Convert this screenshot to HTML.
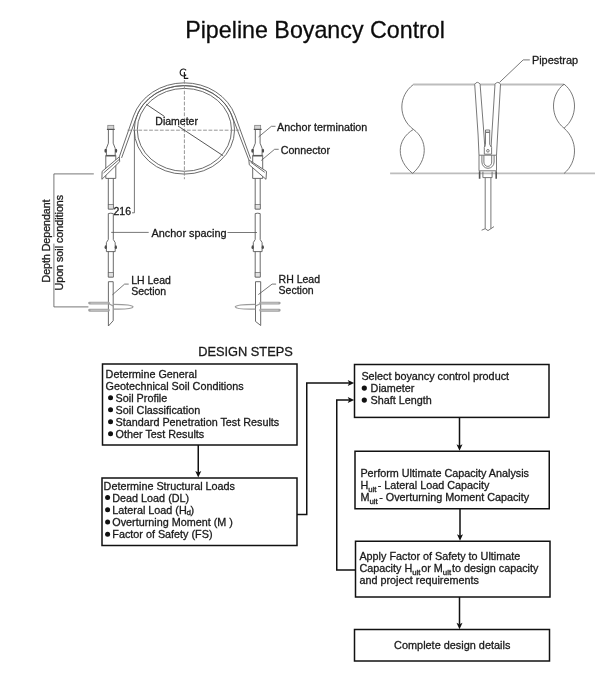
<!DOCTYPE html>
<html><head><meta charset="utf-8"><style>
html,body{margin:0;padding:0;background:#fff;}
body{width:616px;height:680px;overflow:hidden;}
svg{display:block;filter:blur(0.3px);}
text{font-family:"Liberation Sans",sans-serif;stroke:#1a1a1a;stroke-width:0.3px;}
</style></head><body>
<svg width="616" height="680" viewBox="0 0 616 680">
<text x="185.2" y="38" font-size="23.25" fill="#0a0a0a" >Pipeline Boyancy Control</text>
<g fill="none" stroke="#5a5a5a" stroke-width="0.9">
<path d="M119.3,156.85 L133.56,116 A53.2,47 0 0 1 235.09,115.58 L250.6,158.6"/>
<path d="M121.6,157.9 L136.63,116.39 A50.15,44.25 0 0 1 231.91,115.68 L248.85,159.9"/>
<ellipse cx="184.4" cy="129.85" rx="50.15" ry="44.25"/>
<ellipse cx="184.4" cy="129.85" rx="47.1" ry="41.45"/>
</g>
<g fill="none" stroke="#8a8a8a" stroke-width="0.9" stroke-dasharray="3.8 1.6">
<path d="M184.4,80 V179.2"/>
<path d="M127.5,130.2 H240.3"/>
</g>
<g fill="none" stroke="#1a1a1a" stroke-width="1.15">
<path d="M186.1,70.4 A3.3,3.5 0 1 0 186.1,74.6"/>
<path d="M184.4,72 V78.3 H188.3"/>
</g>
<g fill="none" stroke="#444" stroke-width="0.9">
<path d="M146.3,104.3 L164.4,116.4"/>
<path d="M178,126 L223.1,155.7"/>
</g>
<text x="155.3" y="125.3" font-size="10.5" fill="#1a1a1a" >Diameter</text>
<g fill="none" stroke="#5a5a5a" stroke-width="0.9">
<rect x="107.8" y="125.3" width="6" height="4.1" fill="#d4d4d4" stroke="#777" stroke-width="0.7"/>
<path d="M106.89999999999999,129.4 H114.7" stroke-width="1.2" stroke="#555"/>
<path d="M108.39999999999999,129.4 V143.2 L106.39999999999999,148.3 V155.2 M113.2,129.4 V143.2 L115.2,148.3 V155.2"/>
<ellipse cx="105.5" cy="150.7" rx="1.1" ry="2" fill="#4a4a4a" stroke="none"/>
<ellipse cx="116.1" cy="150.7" rx="1.1" ry="2" fill="#4a4a4a" stroke="none"/>
<path d="M105.8,155.7 H115.8" stroke-width="1.6"/>
<path d="M105.8,155.3 V178.4 H115.8 V155.3"/>
<path d="M108.3,178.4 V209 H113.3 V178.4"/>
<rect x="108.3" y="204.6" width="5" height="4.4" fill="#e2e2e2" stroke="#666" stroke-width="0.7"/>
<path d="M108.3,213.6 V239.5 L106.39999999999999,242.6 V251.6 H115.2 V242.6 L113.3,239.5 V213.6 Q110.8,212.8 108.3,213.6"/>
<ellipse cx="105.7" cy="247.2" rx="1.1" ry="1.9" fill="#4a4a4a" stroke="none"/>
<ellipse cx="115.89999999999999" cy="247.2" rx="1.1" ry="1.9" fill="#4a4a4a" stroke="none"/>
<path d="M108.3,251.6 V277 H113.3 V251.6"/>
<rect x="108.3" y="272.5" width="5" height="4.5" fill="#e2e2e2" stroke="#666" stroke-width="0.7"/>
<rect x="254.7" y="125.3" width="6" height="4.1" fill="#d4d4d4" stroke="#777" stroke-width="0.7"/>
<path d="M253.79999999999998,129.4 H261.59999999999997" stroke-width="1.2" stroke="#555"/>
<path d="M255.29999999999998,129.4 V143.2 L253.29999999999998,148.3 V155.2 M260.09999999999997,129.4 V143.2 L262.09999999999997,148.3 V155.2"/>
<ellipse cx="252.39999999999998" cy="150.7" rx="1.1" ry="2" fill="#4a4a4a" stroke="none"/>
<ellipse cx="263.0" cy="150.7" rx="1.1" ry="2" fill="#4a4a4a" stroke="none"/>
<path d="M252.7,155.7 H262.7" stroke-width="1.6"/>
<path d="M252.7,155.3 V178.4 H262.7 V155.3"/>
<path d="M255.2,178.4 V209 H260.2 V178.4"/>
<rect x="255.2" y="204.6" width="5" height="4.4" fill="#e2e2e2" stroke="#666" stroke-width="0.7"/>
<path d="M255.2,213.6 V239.5 L253.29999999999998,242.6 V251.6 H262.09999999999997 V242.6 L260.2,239.5 V213.6 Q257.7,212.8 255.2,213.6"/>
<ellipse cx="252.6" cy="247.2" rx="1.1" ry="1.9" fill="#4a4a4a" stroke="none"/>
<ellipse cx="262.8" cy="247.2" rx="1.1" ry="1.9" fill="#4a4a4a" stroke="none"/>
<path d="M255.2,251.6 V277 H260.2 V251.6"/>
<rect x="255.2" y="272.5" width="5" height="4.5" fill="#e2e2e2" stroke="#666" stroke-width="0.7"/>
<path fill="#fff" d="M119.3,156.85 L102.1,171.4 L101.9,179.3 L119.7,161.7 Z M119.5,159.2 L103.5,173"/>
<path fill="#fff" d="M248.85,159.9 L266.5,171.4 L266,179.3 L249.3,164.8 Z M250.6,162.1 L264.7,172.3"/>
<path d="M108.4,281.7 V326 L113.2,320.7 V281.7 Z"/>
<path d="M255.5,281.7 V321.4 L260.7,325.5 V281.7 Z"/>
</g>
<g fill="none" stroke="#a0a0a0" stroke-width="2.9" stroke-linecap="round">
<path d="M89.6,303.1 H108.4 M89.6,310.2 H108.4"/>
<path d="M260.7,303.1 H279.2 M260.7,310.2 H279.2"/>
</g>
<g fill="none" stroke="#dcdcdc" stroke-width="0.7">
<path d="M90.5,303.1 H108 M90.5,310.2 H108"/>
<path d="M261,303.1 H278.5 M261,310.2 H278.5"/>
</g>
<g fill="none" stroke="#9a9a9a" stroke-width="1.3">
<path d="M113.2,304.4 C124,304.4 132.4,304.8 133,306.9 C132.4,309 124,309.4 113.2,309.1 M108.4,303.5 L113.2,306"/>
<path d="M255.5,304.4 C244,304.4 236,304.8 235.3,306.9 C236,309 244,309.4 255.5,309.1 M260.7,303.5 L255.5,306"/>
</g>
<g fill="none" stroke="#555" stroke-width="0.8">
<path d="M134.4,130.4 V212.8 H132"/>
<path d="M93.8,173.9 H53.9 V237 M53.9,243.6 V306.9 H88.4"/>
<path d="M111.2,232.4 H148.7 M227.5,232.5 H257"/>
<path d="M258.6,136.9 L271.4,126.3 H275.5"/>
<path d="M261.2,160.5 L274.6,149.3 H278.7"/>
<path d="M112.4,294.8 L124.6,284.1 H128.7"/>
<path d="M258.3,294.6 L272.1,284.1 H276.1"/>
</g>
<text x="277" y="130.8" font-size="10.75" fill="#1a1a1a" >Anchor termination</text>
<text x="280.7" y="153.8" font-size="10.7" fill="#1a1a1a" >Connector</text>
<text x="113.5" y="215.1" font-size="10.5" fill="#1a1a1a" >216</text>
<text x="151.5" y="236.9" font-size="10.9" fill="#1a1a1a" >Anchor spacing</text>
<text x="131.2" y="283.8" font-size="10.5" fill="#1a1a1a" >LH Lead</text>
<text x="131.2" y="294.7" font-size="10.5" fill="#1a1a1a" >Section</text>
<text x="278.6" y="283" font-size="10.5" fill="#1a1a1a" >RH Lead</text>
<text x="278.6" y="294.3" font-size="10.5" fill="#1a1a1a" >Section</text>
<text x="0" y="0" font-size="10.6" fill="#1a1a1a" transform="translate(50.1,282.5) rotate(-90)">Depth Dependant</text>
<text x="0" y="0" font-size="10.7" fill="#1a1a1a" transform="translate(63.3,290.5) rotate(-90)">Upon soil conditions</text>
<g fill="none" stroke="#bdbdbd" stroke-width="1.8">
<path d="M413.4,84.5 H564 M390.1,173.4 H595"/>
</g>
<g fill="none" stroke="#6a6a6a" stroke-width="0.9">
<path d="M413.4,84.5 C398,96 398,118 413.4,129.4 C396,140 396,160 412.6,173.4 M413.4,129.4 C428,140 428,160 412.6,173.4"/>
<path d="M564,84.1 C550,95 550,117 564,128.2 C578,117 578,95 564,84.1 M564,128.2 C578,140 578,162 564,173.5"/>
<path fill="#fff" stroke="none" d="M474.7,84.2 Q477.4,80.5 480.1,84.2 L484.8,148 L479,155.2 Z M495,84.2 Q497.7,80.5 500.5,84.2 L496.5,155.2 L491.1,148 Z"/>
<path d="M474.7,84.2 L478.1,135 L479,155.2 M480.1,84.2 L484,135 M474.7,84.2 Q477.4,80.5 480.1,84.2"/>
<path d="M495,84.2 L491.8,135 M500.5,84.2 L497.6,135 L496.5,155.2 M495,84.2 Q497.7,80.5 500.5,84.2"/>
<path d="M484,135 L484.8,147 M491.8,135 L491.1,147"/>
<path d="M485.5,132.3 V144.5 L484.3,147.4 V154.2 H491.6 V147.4 L489.7,144.5 V132.3 Z M485.5,130 H489.7 V132.3 H485.5 Z"/>
<circle cx="487.9" cy="150.8" r="1.3"/>
<path d="M479,155.2 H496.5 V170.8 H479 Z M481.9,155.2 V162 A6.1,6.3 0 0 0 494.1,162 V155.2 M483.9,155.2 V162 A3.9,4.4 0 0 0 491.7,162 V155.2"/>
<path d="M482.9,171.7 V177.6 H492.1 V171.7 "/>
<path d="M479.6,171.2 V178.8 M496.2,171.2 V178.8" stroke-width="1.6" stroke="#555"/>
<path d="M485.2,177.7 V228.7 M490.9,177.7 V228.7 M481.6,230.2 L485.2,228.7 L488,230.6 L494,226.6"/>
</g>
<path d="M499.6,82.3 L523.2,59.9 H529.8" fill="none" stroke="#555" stroke-width="0.8"/>
<text x="531.9" y="63.8" font-size="10.95" fill="#1a1a1a" >Pipestrap</text>
<g fill="none" stroke="#111" stroke-width="1.5">
<rect x="102.5" y="364" width="194.5" height="81"/>
<rect x="102" y="478" width="195" height="67.5"/>
<rect x="354.5" y="364.5" width="194.5" height="52.89999999999998"/>
<rect x="355" y="451.25" width="194.25" height="57.5"/>
<rect x="355.5" y="541.25" width="194.5" height="55.75"/>
<rect x="354.5" y="629.5" width="195.0" height="31.5"/>
<path d="M198.25,445 V473 M459.5,417 V446 M460,508.75 V536 M459.5,597 V624.5"/>
<path d="M297,514.5 H306.75 V383 H349 M355.5,570 H336.75 V400 H349"/>
</g>
<path d="M198.25,477.5 L195.25,471.0 L198.25,472.5 L201.25,471.0 Z" fill="#111"/>
<path d="M459.5,450.75 L456.5,444.25 L459.5,445.75 L462.5,444.25 Z" fill="#111"/>
<path d="M460,540.75 L457,534.25 L460,535.75 L463,534.25 Z" fill="#111"/>
<path d="M459.5,629.25 L456.5,622.75 L459.5,624.25 L462.5,622.75 Z" fill="#111"/>
<path d="M354.2,383 L347.7,380 L349.2,383 L347.7,386 Z" fill="#111"/>
<path d="M354.2,400 L347.7,397 L349.2,400 L347.7,403 Z" fill="#111"/>
<text x="198.2" y="355.5" font-size="12.8" fill="#1a1a1a" >DESIGN STEPS</text>
<text x="105.6" y="378" font-size="10.8" fill="#1a1a1a" >Determine General</text>
<text x="105.6" y="390" font-size="10.8" fill="#1a1a1a" >Geotechnical Soil Conditions</text>
<circle cx="110.55" cy="397.8" r="2.5" fill="#111"/>
<text x="115.6" y="402" font-size="10.8" fill="#1a1a1a" >Soil Profile</text>
<circle cx="110.55" cy="409.8" r="2.5" fill="#111"/>
<text x="115.6" y="414" font-size="10.8" fill="#1a1a1a" >Soil Classification</text>
<circle cx="110.55" cy="421.8" r="2.5" fill="#111"/>
<text x="115.6" y="426" font-size="10.8" fill="#1a1a1a" >Standard Penetration Test Results</text>
<circle cx="110.55" cy="433.8" r="2.5" fill="#111"/>
<text x="115.6" y="438" font-size="10.8" fill="#1a1a1a" >Other Test Results</text>
<text x="103.6" y="489.5" font-size="10.8" fill="#1a1a1a" >Determine Structural Loads</text>
<circle cx="107.6" cy="497.55" r="2.5" fill="#111"/>
<text x="112.3" y="501.75" font-size="10.8" fill="#1a1a1a" >Dead Load (DL)</text>
<circle cx="107.6" cy="509.75000000000006" r="2.5" fill="#111"/>
<text x="112.3" y="513.95" font-size="10.8" fill="#1a1a1a" >Lateral Load (H<tspan font-size="8" dy="1.5" dx="-0.3">d</tspan><tspan dy="-1.5" dx="-0.5">)</tspan></text>
<circle cx="107.6" cy="521.9499999999999" r="2.5" fill="#111"/>
<text x="112.3" y="526.15" font-size="10.8" fill="#1a1a1a" >Overturning Moment (M )</text>
<circle cx="107.6" cy="534.15" r="2.5" fill="#111"/>
<text x="112.3" y="538.35" font-size="10.8" fill="#1a1a1a" >Factor of Safety (FS)</text>
<text x="361.4" y="379.65" font-size="10.8" fill="#1a1a1a" >Select boyancy control product</text>
<circle cx="364.3" cy="388.04999999999995" r="2.6" fill="#111"/>
<text x="370.6" y="391.65" font-size="10.8" fill="#1a1a1a" >Diameter</text>
<circle cx="364.3" cy="400.04999999999995" r="2.6" fill="#111"/>
<text x="370.6" y="403.65" font-size="10.8" fill="#1a1a1a" >Shaft Length</text>
<text x="360.4" y="476.75" font-size="10.8" fill="#1a1a1a" >Perform Ultimate Capacity Analysis</text>
<text x="360.4" y="488.9" font-size="10.8" fill="#1a1a1a" >H<tspan font-size="7.8" dy="3">ult</tspan><tspan dx="-1.8" dy="-3"> - Lateral Load Capacity</tspan></text>
<text x="360.4" y="500.6" font-size="10.8" fill="#1a1a1a" >M<tspan font-size="7.8" dy="3.8">ult</tspan><tspan dx="-1.5" dy="-3.8"> - Overturning Moment Capacity</tspan></text>
<text x="359.4" y="559.85" font-size="10.8" fill="#1a1a1a" >Apply Factor of Safety to Ultimate</text>
<text x="359.4" y="571.85" font-size="10.8" fill="#1a1a1a" >Capacity H<tspan font-size="7.8" dy="3">ult</tspan><tspan dx="0.8" dy="-3">or M</tspan><tspan font-size="7.8" dy="3">ult</tspan><tspan dx="0.8" dy="-3">to design capacity</tspan></text>
<text x="359.4" y="583.85" font-size="10.8" fill="#1a1a1a" >and project requirements</text>
<text x="394.1" y="648.75" font-size="10.9" fill="#1a1a1a" >Complete design details</text>
</svg>
</body></html>
